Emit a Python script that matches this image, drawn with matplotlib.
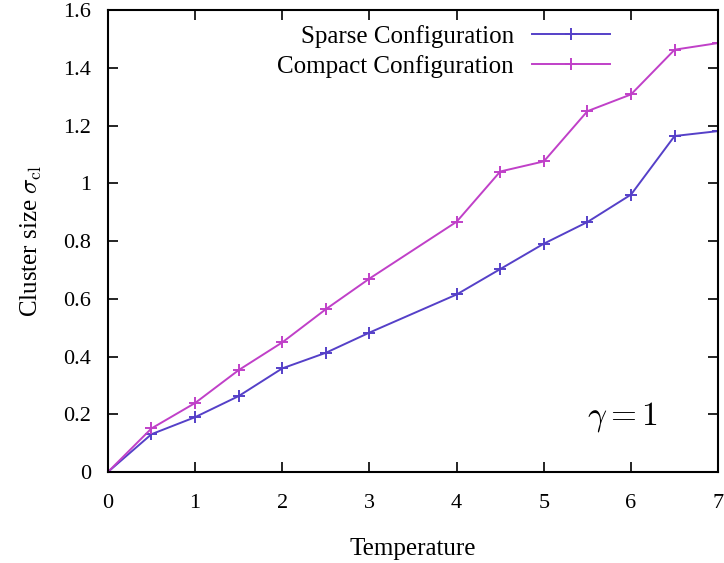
import matplotlib
matplotlib.use("Agg")
import matplotlib.pyplot as plt

temperature = [0, 0.5, 1, 1.5, 2, 2.5, 3, 4, 4.5, 5, 5.5, 6, 6.5, 7]
sparse = [0, 0.131, 0.19, 0.263, 0.359, 0.413, 0.483, 0.615, 0.703, 0.791, 0.866, 0.961, 1.164, 1.181]
compact = [0, 0.151, 0.239, 0.353, 0.449, 0.564, 0.670, 0.867, 1.041, 1.076, 1.250, 1.308, 1.463, 1.486]

x_ticks = [0, 1, 2, 3, 4, 5, 6, 7]
y_ticks = [0, 0.2, 0.4, 0.6, 0.8, 1.0, 1.2, 1.4, 1.6]
y_labels = ["0", "0.2", "0.4", "0.6", "0.8", "1", "1.2", "1.4", "1.6"]

plt.rcParams['font.family'] = ['Liberation Serif', 'DejaVu Serif']
plt.rcParams['mathtext.fontset'] = 'cm'

fig = plt.figure(figsize=(7.24, 5.63), dpi=100)
ax = fig.add_axes([0.149, 0.1616, 0.843, 0.8204])

ax.plot(temperature, sparse, color='#5540c8', marker='+', markersize=8, mew=1.4,
        lw=1.4, label='Sparse Configuration')
ax.plot(temperature, compact, color='#c040c8', marker='+', markersize=8, mew=1.4,
        lw=1.4, label='Compact Configuration')

ax.set_xlim(0, 7)
ax.set_ylim(0, 1.6)
ax.set_xticks(x_ticks)
ax.set_yticks(y_ticks)
ax.set_yticklabels(y_labels)
ax.tick_params(direction='in', length=7, width=1.2, top=True, right=True,
               labelsize=16)
ax.tick_params(axis='y', pad=12)
ax.tick_params(axis='x', pad=16)
for s in ax.spines.values():
    s.set_linewidth(1.5)

ax.set_xlabel('Temperature', fontsize=18, labelpad=18)
ax.set_ylabel(r'Cluster size $\sigma_{\rm cl}$', fontsize=18, labelpad=14)

ax.text(5.5, 0.165, r'$\gamma = 1$', fontsize=24)

ax.legend(loc='upper right', bbox_to_anchor=(0.839, 0.99), frameon=False,
          markerfirst=False, fontsize=18, handlelength=3.1, handletextpad=0.75,
          labelspacing=0.28, borderaxespad=0)

fig.savefig('out.png', dpi=100)
